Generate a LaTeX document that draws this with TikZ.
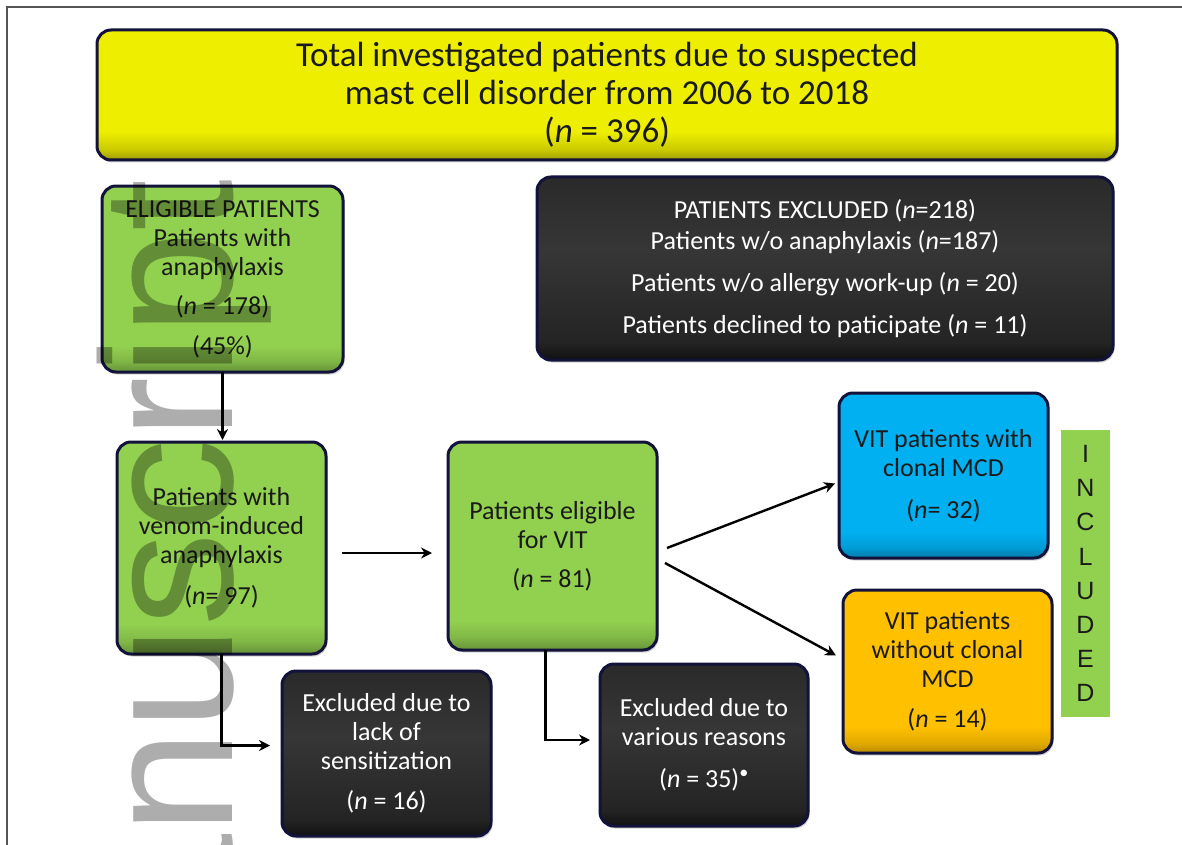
\documentclass[tikz,border=0pt]{standalone}
\usepackage{fontspec}
\setmainfont{Carlito}
\newfontfamily\wmfont{Liberation Sans}
\usetikzlibrary{arrows.meta,calc,shadows}
\definecolor{ttlyellow}{HTML}{EEEE00}
\definecolor{boxgreen}{HTML}{92D050}
\definecolor{boxblue}{HTML}{00B0F0}
\definecolor{boxorange}{HTML}{FFC000}
\definecolor{boxborder}{HTML}{12123A}
\definecolor{txtdark}{HTML}{1A1A1A}
\definecolor{framecol}{HTML}{555555}
\definecolor{dkA}{HTML}{111111}
\definecolor{dkB}{HTML}{242424}
\definecolor{dkC}{HTML}{363636}
\definecolor{dkD}{HTML}{2A2A2A}
\colorlet{gD}{boxgreen!70!black}\colorlet{gM}{boxgreen!88!black}
\colorlet{bD}{boxblue!70!black}\colorlet{bM}{boxblue!88!black}
\colorlet{oD}{boxorange!72!black}\colorlet{oM}{boxorange!88!black}
\colorlet{yD}{ttlyellow!65!black}\colorlet{yM}{ttlyellow!85!black}
\pgfdeclareverticalshading{greenbevel}{100bp}{color(0bp)=(gD); color(25bp)=(gD); color(28bp)=(gM); color(32bp)=(boxgreen); color(100bp)=(boxgreen)}
\pgfdeclareverticalshading{bluebevel}{100bp}{color(0bp)=(bD); color(25bp)=(bD); color(28bp)=(bM); color(33bp)=(boxblue); color(100bp)=(boxblue)}
\pgfdeclareverticalshading{orangebevel}{100bp}{color(0bp)=(oD); color(25bp)=(oD); color(28bp)=(oM); color(33bp)=(boxorange); color(100bp)=(boxorange)}
\pgfdeclareverticalshading{yellowbevel}{100bp}{color(0bp)=(yD); color(25bp)=(yD); color(29bp)=(yM); color(36bp)=(ttlyellow); color(100bp)=(ttlyellow)}
\pgfdeclareverticalshading{darkbevel}{100bp}{color(0bp)=(dkA); color(25bp)=(dkA); color(30bp)=(dkB); color(55bp)=(dkC); color(75bp)=(dkD); color(100bp)=(dkD)}
\tikzset{
  flowbox/.style={rounded corners=14pt, draw=boxborder, line width=3pt,
    align=center, inner sep=0pt, outer sep=0pt, shade,
    font=\fontsize{26}{29}\selectfont,
    drop shadow={shadow xshift=1.5pt, shadow yshift=-2.5pt, opacity=0.35}},
  greenbox/.style={flowbox, shading=greenbevel, text=txtdark},
  bluebox/.style={flowbox, shading=bluebevel, text=txtdark},
  orangebox/.style={flowbox, shading=orangebevel, text=txtdark},
  darkbox/.style={flowbox, shading=darkbevel, text=white},
  titlebox/.style={flowbox, shading=yellowbevel, text=txtdark,
    font=\fontsize{35}{38}\selectfont},
  arr/.style={-{Stealth[length=11pt,width=11pt]}, line width=2.4pt, draw=black},
}
\begin{document}
\begin{tikzpicture}[x=1pt,y=-1pt]
\useasboundingbox (0,0) rectangle (1182,845);
\fill[white] (0,0) rectangle (1182,845);
\draw[framecol, line width=1.5pt] (7,845) -- (7,7) -- (1182,7);

\node[titlebox, minimum width=1020pt, minimum height=130pt] (title) at (607,95)
  {Total investigated patients due to suspected\\mast cell disorder from 2006 to 2018\\(\textit{n} = 396)};

\node[greenbox, minimum width=241pt, minimum height=186pt] (elig) at (222.5,279)
  {ELIGIBLE PATIENTS\\Patients with\\anaphylaxis\\[10pt](\textit{n} = 178)\\[11pt](45\%)};

\node[darkbox, minimum width=576pt, minimum height=183pt] (excl) at (825,268.5)
  {PATIENTS EXCLUDED (\textit{n}=218)\\[2pt]Patients w/o anaphylaxis (\textit{n}=187)\\[13pt]Patients w/o allergy work-up (\textit{n} = 20)\\[13pt]Patients declined to paticipate (\textit{n} = 11)};

\node[greenbox, minimum width=209pt, minimum height=212pt] (venom) at (221.5,548)
  {Patients with\\venom-induced\\anaphylaxis\\[12pt](\textit{n}= 97)};

\node[greenbox, minimum width=209pt, minimum height=208pt] (vit) at (552.5,546)
  {Patients eligible\\for VIT\\[10pt](\textit{n} = 81)};

\node[bluebox, minimum width=209pt, minimum height=165pt] (blue) at (943.5,475.5)
  {VIT patients with\\clonal MCD\\[13pt](\textit{n}= 32)};

\node[orangebox, minimum width=209pt, minimum height=163pt] (orange) at (947.5,671.5)
  {VIT patients\\without clonal\\MCD\\[11pt](\textit{n} = 14)};

\node[fill=boxgreen, minimum width=49pt, minimum height=287pt, inner sep=0pt, align=center,
  text=txtdark, font=\wmfont\fontsize{25}{34.2}\selectfont] (incl) at (1085.5,573.5)
  {I\\N\\C\\L\\U\\D\\E\\D};

\node[darkbox, minimum width=209pt, minimum height=165pt] (lack) at (386.5,753.5)
  {Excluded due to\\lack of\\sensitization\\[11pt](\textit{n} = 16)};

\node[darkbox, minimum width=208pt, minimum height=162pt] (various) at (704,745)
  {Excluded due to\\various reasons\\[13pt](\textit{n} = 35)\textsuperscript{\textbullet}};

\draw[arr, shorten >=2pt] (elig.south) -- (elig.south |- venom.north);
\draw[arr, shorten <=16pt, shorten >=16pt] ($(venom.east)+(0,5)$) -- ($(vit.west)+(0,7)$);
\draw[arr] ($(vit.east)+(10,2)$) -- ($(blue.west)+(-4,8)$);
\draw[arr] ($(vit.east)+(8,17)$) -- ($(orange.west)+(-7,-16)$);
\draw[arr] (venom.south) |- ($(lack.west)+(-12,-8)$);
\draw[arr] ($(vit.south)+(-7,0)$) |- ($(various.west)+(-10,-5)$);

\begin{scope}
\clip (0,0) rectangle (1182,845);
\node[rotate=90, anchor=base west, inner sep=0pt, outer sep=0pt, text=black, text opacity=0.32,
  font=\wmfont\fontsize{187}{187}\selectfont] (wm) at (232,938) {anuscript};
\end{scope}
\end{tikzpicture}
\end{document}
